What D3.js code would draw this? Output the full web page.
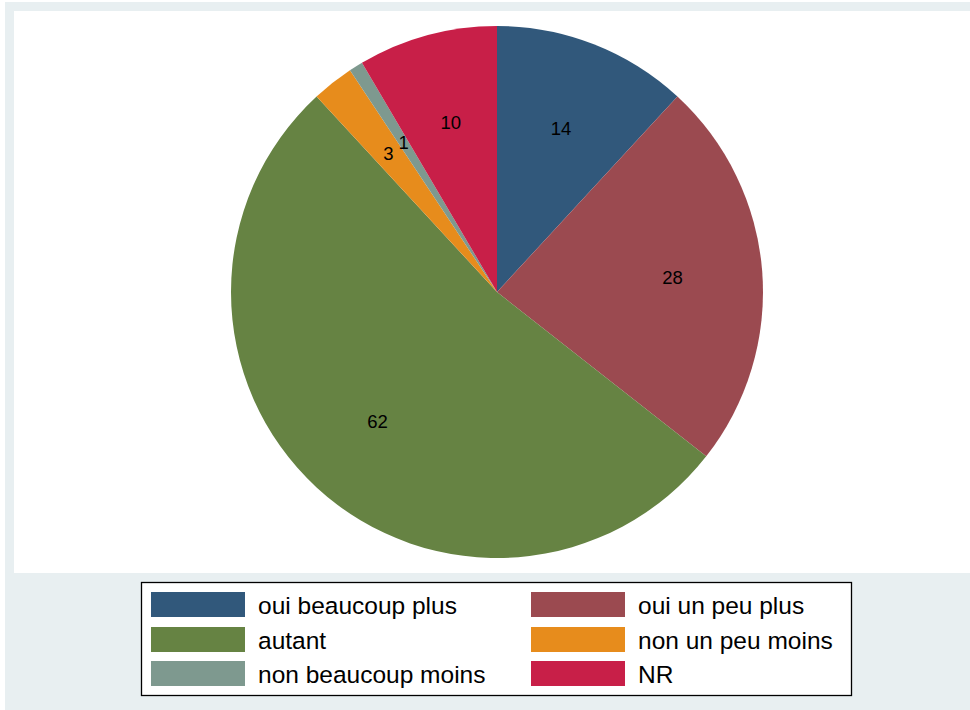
<!DOCTYPE html>
<html>
<head>
<meta charset="utf-8">
<script src="https://cdn.jsdelivr.net/npm/d3@7"></script>
<style>
  html, body { margin: 0; padding: 0; background: #ffffff; }
  svg { display: block; }
  text { font-family: "Liberation Sans", Arial, sans-serif; }
</style>
</head>
<body>
<svg id="chart" width="970" height="710"></svg>
<script>
// ---- data ----
const categories = ["oui beaucoup plus", "oui un peu plus", "autant", "non un peu moins", "non beaucoup moins", "NR"];
const values = [14, 28, 62, 3, 1, 10];
const colors = ["#31587b", "#9b4a50", "#668343", "#e78c1c", "#7e998f", "#c81f48"];

const svg = d3.select("#chart");

// background regions
svg.append("rect").attr("x", 5).attr("y", 2).attr("width", 965).attr("height", 708).attr("fill", "#e8eff1");
svg.append("rect").attr("x", 14).attr("y", 11).attr("width", 956).attr("height", 562).attr("fill", "#ffffff");

// pie
const cx = 497, cy = 292, R = 266, labelR = 176;
const data = categories.map((c, i) => ({ cat: c, value: values[i], color: colors[i] }));
const pie = d3.pie().value(d => d.value).sort(null).startAngle(0).endAngle(2 * Math.PI);
const arcs = pie(data);
const arc = d3.arc().innerRadius(0).outerRadius(R);
const labelArc = d3.arc().innerRadius(labelR).outerRadius(labelR);

const g = svg.append("g").attr("transform", `translate(${cx},${cy})`);
g.selectAll("path.slice").data(arcs).enter().append("path")
  .attr("class", "slice")
  .attr("d", arc)
  .attr("fill", d => d.data.color);

g.selectAll("text.lbl").data(arcs).enter().append("text")
  .attr("class", "lbl")
  .attr("transform", d => `translate(${labelArc.centroid(d)})`)
  .attr("text-anchor", "middle")
  .attr("dominant-baseline", "central")
  .attr("font-size", 18.5)
  .attr("fill", "#000")
  .text(d => d.data.value);

// legend
const lg = svg.append("g");
lg.append("rect").attr("x", 141.5).attr("y", 582.5).attr("width", 710).attr("height", 113)
  .attr("fill", "#ffffff").attr("stroke", "#000").attr("stroke-width", 1.3);

const colX = [151, 531];
const rowY = [592, 627, 661];
const items = lg.selectAll("g.item").data(data).enter().append("g").attr("class", "item")
  .attr("transform", (d, i) => `translate(${colX[i % 2]},${rowY[Math.floor(i / 2)]})`);
items.append("rect").attr("width", 94).attr("height", 25).attr("fill", d => d.color);
items.append("text").attr("x", 107).attr("y", 13)
  .attr("dominant-baseline", "central")
  .attr("font-size", 24.5)
  .attr("fill", "#000")
  .text(d => d.cat);
</script>
</body>
</html>
